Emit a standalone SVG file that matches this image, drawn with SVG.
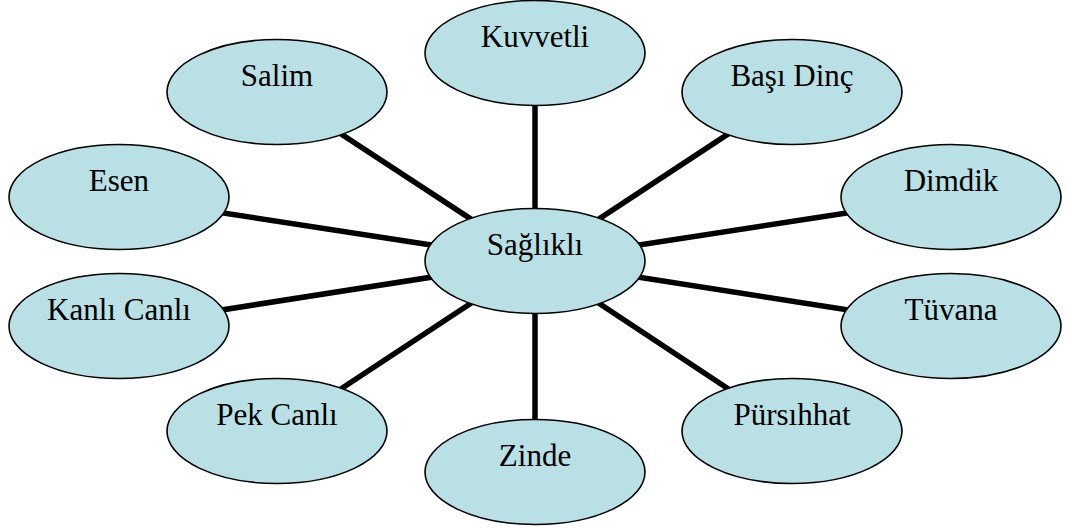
<svg xmlns="http://www.w3.org/2000/svg" width="1069" height="531" viewBox="0 0 1069 531">
<style>
.n ellipse{fill:#b9e0e5;stroke:#000;stroke-width:1.6}
.n text{font-family:'Liberation Serif','Times New Roman',serif;font-size:31px;fill:#000;text-anchor:middle}
#connectors line{stroke:#000;stroke-width:5.5}
</style>
<rect width="1069" height="531" fill="#fff"/>
<g id="connectors">
<line x1="535" y1="261" x2="535" y2="52"/>
<line x1="535" y1="261" x2="277" y2="92"/>
<line x1="535" y1="261" x2="792" y2="92"/>
<line x1="535" y1="261" x2="119" y2="197"/>
<line x1="535" y1="261" x2="951" y2="197"/>
<line x1="535" y1="261" x2="119" y2="326"/>
<line x1="535" y1="261" x2="951" y2="326"/>
<line x1="535" y1="261" x2="277" y2="431"/>
<line x1="535" y1="261" x2="792" y2="431"/>
<line x1="535" y1="261" x2="535" y2="472"/>
</g>
<g id="kuvvetli" class="n"><ellipse cx="535" cy="53" rx="110" ry="52.5"/><text x="535" y="47">Kuvvetli</text></g>
<g id="salim" class="n"><ellipse cx="277" cy="92" rx="110" ry="52.5"/><text x="277" y="86">Salim</text></g>
<g id="basi-dinc" class="n"><ellipse cx="792" cy="92" rx="110" ry="52.5"/><text x="792" y="86">Başı Dinç</text></g>
<g id="esen" class="n"><ellipse cx="119" cy="197" rx="110" ry="52.5"/><text x="119" y="191">Esen</text></g>
<g id="dimdik" class="n"><ellipse cx="951" cy="197" rx="110" ry="52.5"/><text x="951" y="191">Dimdik</text></g>
<g id="saglikli" class="n"><ellipse cx="535" cy="261" rx="110" ry="52.5"/><text x="535" y="255">Sağlıklı</text></g>
<g id="kanli-canli" class="n"><ellipse cx="119" cy="326" rx="110" ry="52.5"/><text x="119" y="320">Kanlı Canlı</text></g>
<g id="tuvana" class="n"><ellipse cx="951" cy="326" rx="110" ry="52.5"/><text x="951" y="320">Tüvana</text></g>
<g id="pek-canli" class="n"><ellipse cx="277" cy="431" rx="110" ry="52.5"/><text x="277" y="425">Pek Canlı</text></g>
<g id="pursihhat" class="n"><ellipse cx="792" cy="431" rx="110" ry="52.5"/><text x="792" y="425">Pürsıhhat</text></g>
<g id="zinde" class="n"><ellipse cx="535" cy="472" rx="110" ry="52.5"/><text x="535" y="466">Zinde</text></g>
</svg>
